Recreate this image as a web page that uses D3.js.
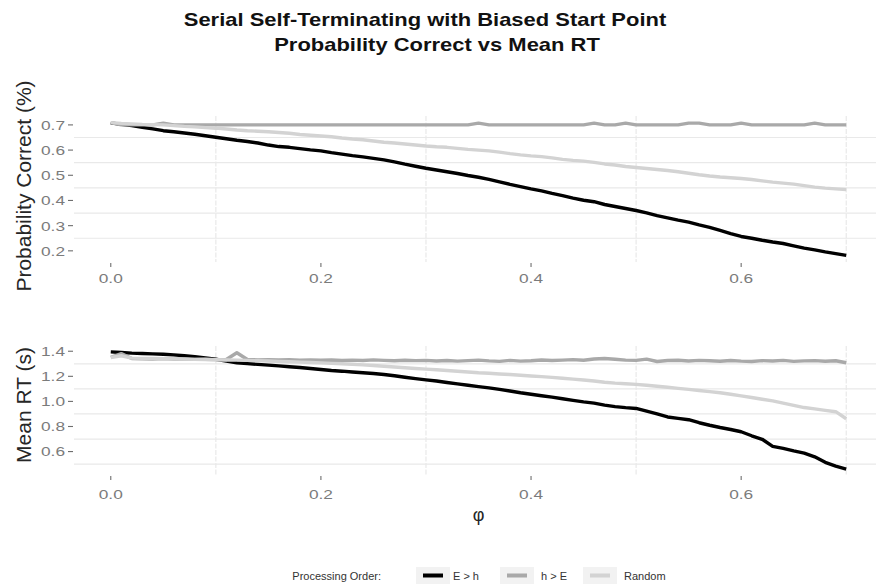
<!DOCTYPE html>
<html>
<head>
<meta charset="utf-8">
<script src="https://cdn.jsdelivr.net/npm/d3@7"></script>
<style>
  body { margin: 0; background: #fff; }
  svg { display: block; font-family: "Liberation Sans", Arial, Helvetica, sans-serif; }
</style>
</head>
<body>
<svg id="chart" width="876" height="585"></svg>
<script>
// Bias parameter phi (x axis)
const phi = [0.00,0.01,0.02,0.03,0.04,0.05,0.06,0.07,0.08,0.09,
             0.10,0.11,0.12,0.13,0.14,0.15,0.16,0.17,0.18,0.19,
             0.20,0.21,0.22,0.23,0.24,0.25,0.26,0.27,0.28,0.29,
             0.30,0.31,0.32,0.33,0.34,0.35,0.36,0.37,0.38,0.39,
             0.40,0.41,0.42,0.43,0.44,0.45,0.46,0.47,0.48,0.49,
             0.50,0.51,0.52,0.53,0.54,0.55,0.56,0.57,0.58,0.59,
             0.60,0.61,0.62,0.63,0.64,0.65,0.66,0.67,0.68,0.69,0.70];

// Processing orders (legend categories)
const orders = ["E > h", "h > E", "Random"];
const orderColors = ["#000000", "#a9a9a9", "#d3d3d3"];

// Probability correct by processing order
const pcEH = [0.708,0.702,0.697,0.690,0.684,0.677,0.673,0.668,0.663,0.657,
              0.651,0.645,0.639,0.634,0.628,0.620,0.614,0.611,0.606,0.601,
              0.597,0.590,0.584,0.578,0.573,0.567,0.561,0.553,0.544,0.536,
              0.528,0.521,0.514,0.507,0.499,0.492,0.484,0.474,0.464,0.455,
              0.446,0.438,0.428,0.419,0.409,0.401,0.395,0.384,0.376,0.368,
              0.360,0.351,0.340,0.331,0.322,0.314,0.303,0.293,0.281,0.268,
              0.257,0.250,0.242,0.235,0.229,0.220,0.211,0.204,0.196,0.189,0.182];
const pcHE = [0.709,0.700,0.700,0.700,0.700,0.707,0.700,0.700,0.700,0.700,
              0.700,0.700,0.700,0.700,0.700,0.700,0.700,0.700,0.700,0.700,
              0.700,0.700,0.700,0.700,0.700,0.700,0.700,0.700,0.700,0.700,
              0.700,0.700,0.700,0.700,0.700,0.707,0.700,0.700,0.700,0.700,
              0.700,0.700,0.700,0.700,0.700,0.700,0.707,0.700,0.700,0.707,
              0.700,0.700,0.700,0.700,0.700,0.707,0.707,0.700,0.700,0.700,
              0.707,0.700,0.700,0.700,0.700,0.700,0.700,0.707,0.700,0.700,0.700];
const pcRD = [0.709,0.706,0.704,0.702,0.701,0.700,0.697,0.694,0.692,0.689,
              0.687,0.684,0.680,0.677,0.675,0.673,0.670,0.667,0.662,0.659,
              0.656,0.653,0.648,0.644,0.641,0.636,0.631,0.628,0.624,0.620,
              0.616,0.613,0.611,0.607,0.603,0.600,0.597,0.592,0.586,0.581,
              0.577,0.574,0.569,0.563,0.559,0.556,0.551,0.545,0.541,0.535,
              0.531,0.527,0.523,0.519,0.514,0.508,0.502,0.497,0.493,0.490,
              0.487,0.483,0.478,0.473,0.469,0.465,0.459,0.453,0.449,0.446,0.443];

// Mean response time (s) by processing order
const rtEH = [1.395,1.390,1.385,1.382,1.379,1.376,1.371,1.364,1.357,1.347,
              1.336,1.321,1.308,1.301,1.295,1.289,1.283,1.276,1.270,1.262,
              1.254,1.246,1.241,1.234,1.228,1.222,1.215,1.205,1.193,1.182,
              1.172,1.163,1.151,1.140,1.129,1.118,1.108,1.096,1.083,1.069,
              1.057,1.045,1.034,1.021,1.008,0.996,0.986,0.970,0.958,0.950,
              0.944,0.922,0.900,0.876,0.865,0.854,0.830,0.810,0.792,0.776,
              0.758,0.726,0.698,0.642,0.625,0.605,0.587,0.558,0.514,0.484,0.460];
const rtHE = [1.352,1.381,1.342,1.340,1.338,1.341,1.337,1.339,1.335,1.336,
              1.333,1.334,1.388,1.334,1.331,1.333,1.330,1.332,1.329,1.331,
              1.328,1.330,1.327,1.329,1.326,1.331,1.327,1.324,1.328,1.325,
              1.327,1.322,1.326,1.321,1.325,1.329,1.323,1.319,1.327,1.321,
              1.324,1.330,1.326,1.329,1.333,1.328,1.338,1.342,1.336,1.329,
              1.327,1.337,1.318,1.326,1.328,1.322,1.327,1.324,1.320,1.326,
              1.321,1.318,1.325,1.322,1.327,1.319,1.323,1.325,1.320,1.324,1.308];
const rtRD = [1.350,1.364,1.345,1.343,1.342,1.340,1.339,1.337,1.335,1.334,
              1.332,1.330,1.329,1.327,1.325,1.322,1.319,1.316,1.313,1.310,
              1.307,1.303,1.300,1.296,1.291,1.286,1.280,1.274,1.268,1.262,
              1.257,1.252,1.246,1.241,1.235,1.229,1.225,1.219,1.214,1.208,
              1.203,1.198,1.192,1.185,1.178,1.171,1.163,1.153,1.146,1.141,
              1.136,1.129,1.121,1.113,1.104,1.096,1.087,1.078,1.069,1.057,
              1.044,1.031,1.017,1.004,0.986,0.968,0.951,0.940,0.929,0.918,0.862];

// Axis breaks
const phiTicks = [0.0, 0.2, 0.4, 0.6];
const pcTicks  = [0.2, 0.3, 0.4, 0.5, 0.6, 0.7];
const rtTicks  = [0.6, 0.8, 1.0, 1.2, 1.4];

const titleLines = ["Serial Self-Terminating with Biased Start Point",
                    "Probability Correct vs Mean RT"];

// ---------------------------------------------------------------------------
const svg = d3.select("#chart");

// 5% padding on each side of the data range
function padded(ext) {
  const m = (ext[1] - ext[0]) * 0.05;
  return [ext[0] - m, ext[1] + m];
}
// Minor breaks halfway between majors, extended while inside the limits
function minorBreaks(major, domain) {
  const step = major[1] - major[0];
  const out = [];
  for (let v = major[0] - step / 2; v <= domain[1] + 1e-9; v += step) {
    if (v >= domain[0] - 1e-9) out.push(+v.toFixed(6));
  }
  return out;
}

const panelLeft = 74, panelRight = 883;
const x = d3.scaleLinear().domain(padded(d3.extent(phi))).range([panelLeft, panelRight]);

const panels = [
  { series: [pcEH, pcHE, pcRD], ticks: pcTicks, top: 116, bottom: 262,
    label: "Probability Correct (%)", labelY: 186, xLabelY: 283 },
  { series: [rtEH, rtHE, rtRD], ticks: rtTicks, top: 346, bottom: 475,
    label: "Mean RT (s)", labelY: 405, xLabelY: 499 }
];

const gridColor = "#e9e9e9";
const tickColor = "#6e6e6e";
const tickText = "#7b7b7b";
const tickSize = 13.5, tickStretch = 1.28;
const fmt = d3.format(".1f");

panels.forEach(p => {
  const all = p.series.flat();
  const y = d3.scaleLinear().domain(padded(d3.extent(all))).range([p.bottom, p.top]);
  const g = svg.append("g");

  // minor grid (horizontal)
  g.selectAll("line.hgrid")
    .data(minorBreaks(p.ticks, y.domain()))
    .join("line")
    .attr("x1", panelLeft).attr("x2", panelRight)
    .attr("y1", d => y(d)).attr("y2", d => y(d))
    .attr("stroke", gridColor).attr("stroke-width", 1.2);

  // minor grid (vertical)
  g.selectAll("line.vgrid")
    .data(minorBreaks(phiTicks, x.domain()))
    .join("line")
    .attr("x1", d => x(d)).attr("x2", d => x(d))
    .attr("y1", p.top).attr("y2", p.bottom)
    .attr("stroke", gridColor).attr("stroke-width", 1.2)
    .attr("stroke-dasharray", "5,1.5");

  // y axis ticks + labels
  const yt = g.append("g");
  yt.selectAll("line")
    .data(p.ticks).join("line")
    .attr("x1", 68).attr("x2", 73)
    .attr("y1", d => y(d)).attr("y2", d => y(d))
    .attr("stroke", tickColor).attr("stroke-width", 1.1);
  yt.selectAll("text")
    .data(p.ticks).join("text")
    .attr("transform", d => `translate(65,${y(d)}) scale(${tickStretch},1)`)
    .attr("dy", "0.36em")
    .attr("text-anchor", "end")
    .attr("font-size", tickSize).attr("fill", tickText)
    .text(d => fmt(d));

  // x axis ticks + labels
  const xt = g.append("g");
  xt.selectAll("line")
    .data(phiTicks).join("line")
    .attr("x1", d => x(d)).attr("x2", d => x(d))
    .attr("y1", p.bottom + 1).attr("y2", p.bottom + 5)
    .attr("stroke", tickColor).attr("stroke-width", 1.1);
  xt.selectAll("text")
    .data(phiTicks).join("text")
    .attr("transform", d => `translate(${x(d)},${p.xLabelY}) scale(${tickStretch},1)`)
    .attr("text-anchor", "middle")
    .attr("font-size", tickSize).attr("fill", tickText)
    .text(d => fmt(d));

  // y axis title
  g.append("text")
    .attr("transform", `translate(31,${p.labelY}) rotate(-90)`)
    .attr("text-anchor", "middle")
    .attr("font-size", 21).attr("fill", "#262626")
    .text(p.label);

  // series lines (drawn in legend order, Random on top)
  const line = d3.line().x((d, i) => x(phi[i])).y(d => y(d));
  p.series.forEach((s, k) => {
    g.append("path")
      .datum(s)
      .attr("d", line)
      .attr("fill", "none")
      .attr("stroke", orderColors[k])
      .attr("stroke-width", 3.4)
      .attr("stroke-linejoin", "round")
      .attr("stroke-linecap", "butt");
  });
});

// x axis title
svg.append("text")
  .attr("x", (panelLeft + panelRight) / 2).attr("y", 521)
  .attr("text-anchor", "middle")
  .attr("font-size", 18).attr("fill", "#262626")
  .text("\u03C6");

// title (two centred lines)
svg.append("g").selectAll("text")
  .data(titleLines).join("text")
  .attr("transform", (d, i) => `translate(${i === 0 ? 425 : 437},${26 + i * 25}) scale(1.22,1)`)
  .attr("text-anchor", "middle")
  .attr("font-size", 18).attr("font-weight", "bold").attr("fill", "#111")
  .text(d => d);

// legend
const legend = svg.append("g").attr("font-size", 11).attr("fill", "#333");
legend.append("text")
  .attr("x", 381).attr("y", 580)
  .attr("text-anchor", "end")
  .text("Processing Order:");
const keyX = [416, 500, 583];
const labX = [453, 541, 624];
orders.forEach((o, k) => {
  legend.append("rect")
    .attr("x", keyX[k]).attr("y", 567)
    .attr("width", 34).attr("height", 17)
    .attr("fill", "#f2f2f2");
  legend.append("line")
    .attr("x1", keyX[k] + 7).attr("x2", keyX[k] + 27)
    .attr("y1", 575.5).attr("y2", 575.5)
    .attr("stroke", orderColors[k]).attr("stroke-width", 4);
  legend.append("text")
    .attr("x", labX[k]).attr("y", 580)
    .text(o);
});
</script>
</body>
</html>
